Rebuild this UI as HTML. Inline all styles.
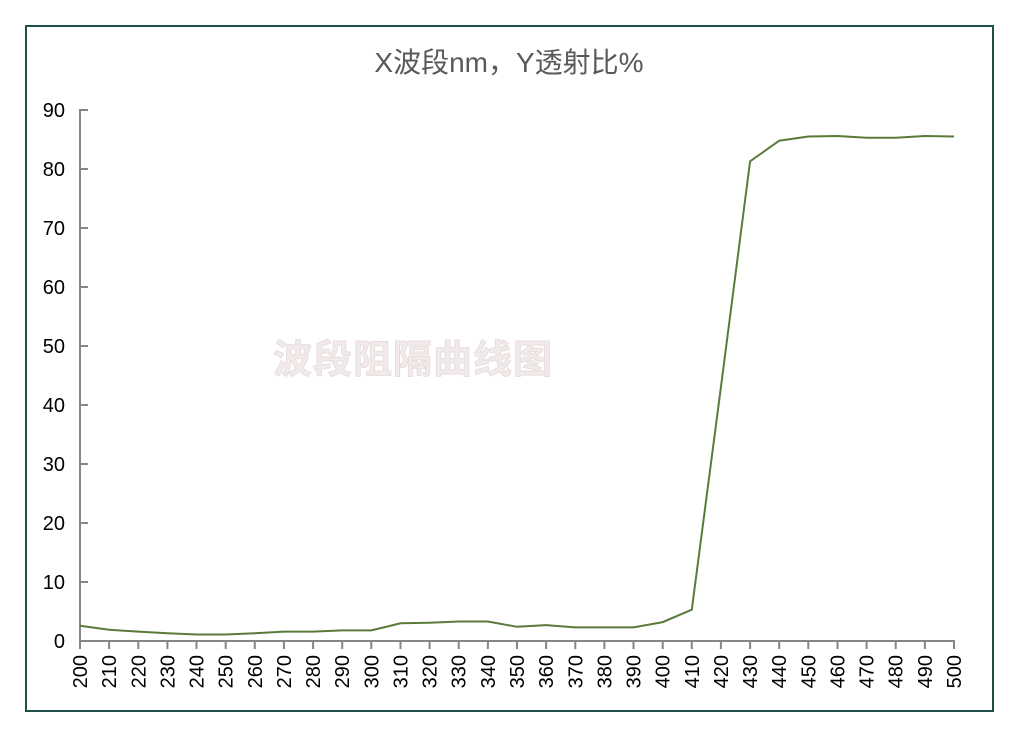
<!DOCTYPE html>
<html><head><meta charset="utf-8"><style>
body{margin:0;background:#fff;}
svg{display:block;font-family:"Liberation Sans","Noto Sans CJK SC",sans-serif;}
</style></head><body>
<svg width="1022" height="740" viewBox="0 0 1022 740">
<rect x="0" y="0" width="1022" height="740" fill="#fff"/>
<rect x="26" y="26" width="967" height="685" fill="#fff" stroke="#1f4e48" stroke-width="2"/>
<text x="509" y="72" text-anchor="middle" font-size="28" fill="#595959">X波段nm，Y透射比%</text>
<text x="413" y="373" text-anchor="middle" font-size="39" font-weight="bold" fill="#f2eaea" stroke="#e8dede" stroke-width="1" style="font-family:'Noto Sans CJK SC',sans-serif;letter-spacing:1px">波段阻隔曲线图</text>
<g stroke="#868686" stroke-width="2" fill="none">
<line x1="80" y1="109" x2="80" y2="642"/>
<line x1="79" y1="641" x2="955" y2="641"/>
<path d="M80 110h8M80 169h8M80 228h8M80 287h8M80 346h8M80 405h8M80 464h8M80 523h8M80 582h8"/>
<path d="M80 641v8M109.1 641v8M138.3 641v8M167.4 641v8M196.5 641v8M225.7 641v8M254.8 641v8M283.9 641v8M313.1 641v8M342.2 641v8M371.3 641v8M400.5 641v8M429.6 641v8M458.7 641v8M487.9 641v8M517 641v8M546.1 641v8M575.3 641v8M604.4 641v8M633.5 641v8M662.7 641v8M691.8 641v8M720.9 641v8M750.1 641v8M779.2 641v8M808.3 641v8M837.5 641v8M866.6 641v8M895.7 641v8M924.9 641v8M954 641v8"/>
</g>
<g font-size="20" fill="#000" text-anchor="end">
<text x="65" y="648">0</text><text x="65" y="589">10</text><text x="65" y="530">20</text><text x="65" y="471">30</text><text x="65" y="412">40</text><text x="65" y="353">50</text><text x="65" y="294">60</text><text x="65" y="235">70</text><text x="65" y="176">80</text><text x="65" y="117">90</text>
</g>
<g font-size="20" fill="#000" text-anchor="end">
<text transform="translate(87,655) rotate(-90)">200</text>
<text transform="translate(116.1,655) rotate(-90)">210</text>
<text transform="translate(145.3,655) rotate(-90)">220</text>
<text transform="translate(174.4,655) rotate(-90)">230</text>
<text transform="translate(203.5,655) rotate(-90)">240</text>
<text transform="translate(232.7,655) rotate(-90)">250</text>
<text transform="translate(261.8,655) rotate(-90)">260</text>
<text transform="translate(290.9,655) rotate(-90)">270</text>
<text transform="translate(320.1,655) rotate(-90)">280</text>
<text transform="translate(349.2,655) rotate(-90)">290</text>
<text transform="translate(378.3,655) rotate(-90)">300</text>
<text transform="translate(407.5,655) rotate(-90)">310</text>
<text transform="translate(436.6,655) rotate(-90)">320</text>
<text transform="translate(465.7,655) rotate(-90)">330</text>
<text transform="translate(494.9,655) rotate(-90)">340</text>
<text transform="translate(524,655) rotate(-90)">350</text>
<text transform="translate(553.1,655) rotate(-90)">360</text>
<text transform="translate(582.3,655) rotate(-90)">370</text>
<text transform="translate(611.4,655) rotate(-90)">380</text>
<text transform="translate(640.5,655) rotate(-90)">390</text>
<text transform="translate(669.7,655) rotate(-90)">400</text>
<text transform="translate(698.8,655) rotate(-90)">410</text>
<text transform="translate(727.9,655) rotate(-90)">420</text>
<text transform="translate(757.1,655) rotate(-90)">430</text>
<text transform="translate(786.2,655) rotate(-90)">440</text>
<text transform="translate(815.3,655) rotate(-90)">450</text>
<text transform="translate(844.5,655) rotate(-90)">460</text>
<text transform="translate(873.6,655) rotate(-90)">470</text>
<text transform="translate(902.7,655) rotate(-90)">480</text>
<text transform="translate(931.9,655) rotate(-90)">490</text>
<text transform="translate(961,655) rotate(-90)">500</text>
</g>
<polyline fill="none" stroke="#5a7a3a" stroke-width="2" points="80,625.7 109.1,629.8 138.3,631.6 167.4,633.3 196.5,634.5 225.7,634.5 254.8,633.3 283.9,631.6 313.1,631.6 342.2,630.4 371.3,630.4 400.5,623.3 429.6,622.7 458.7,621.5 487.9,621.5 517,626.8 546.1,625.1 575.3,627.4 604.4,627.4 633.5,627.4 662.7,622.1 691.8,609.7 720.9,387.3 750.1,161.3 779.2,140.7 808.3,136.5 837.5,136 866.6,137.7 895.7,137.7 924.9,136 954,136.5"/>
</svg>
</body></html>
